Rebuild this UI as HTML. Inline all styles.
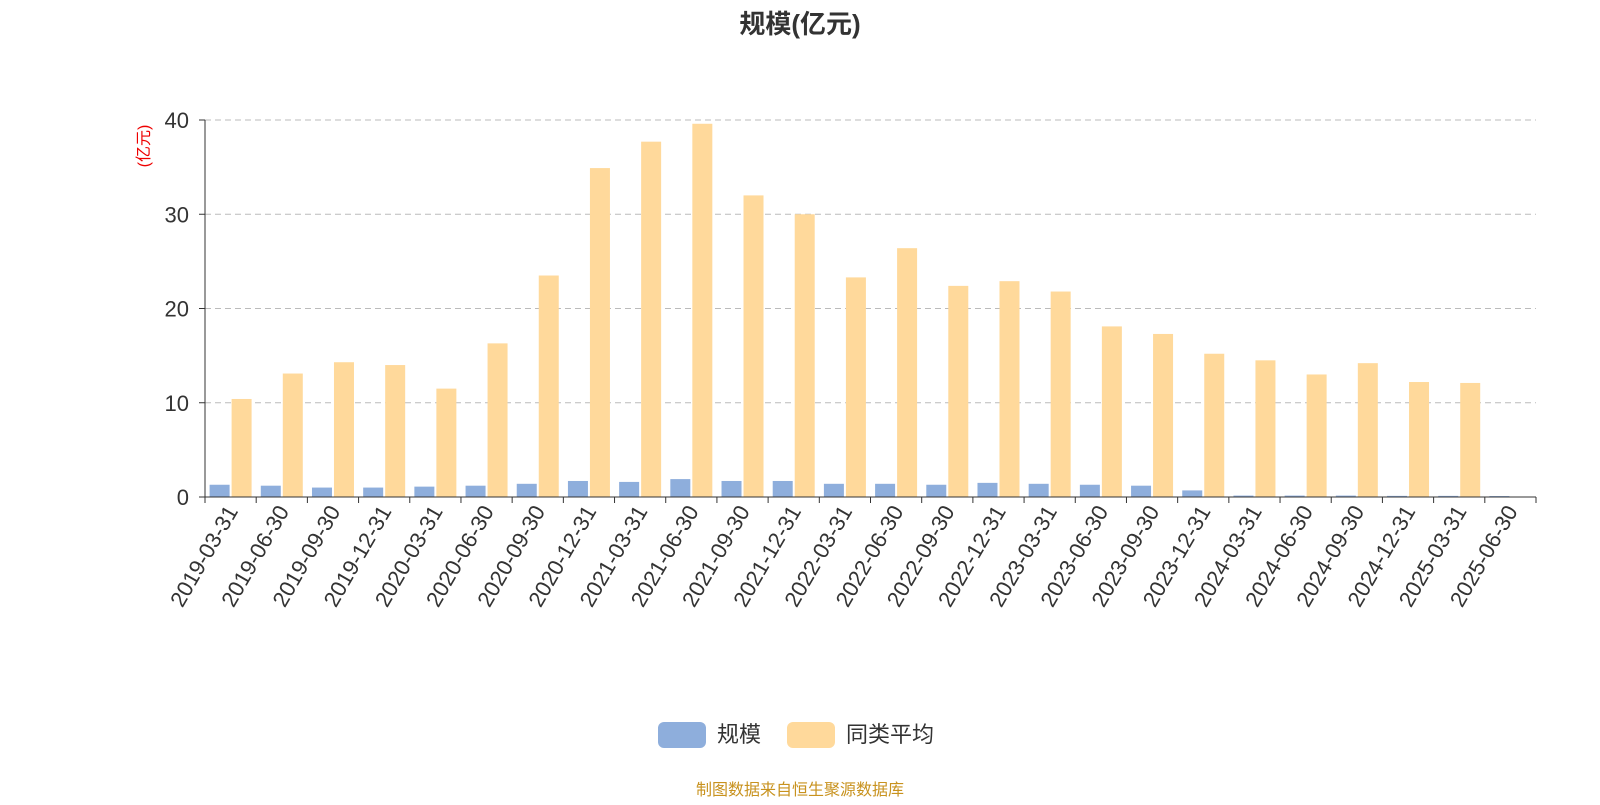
<!DOCTYPE html>
<html><head><meta charset="utf-8"><style>
body{margin:0;background:#fff;width:1600px;height:800px;overflow:hidden;font-family:"Liberation Sans","Noto Sans CJK SC",sans-serif}
</style></head><body>
<svg id="chart" width="1600" height="800" xmlns="http://www.w3.org/2000/svg" font-family="Liberation Sans, Noto Sans CJK SC, sans-serif">
<text x="800" y="33" text-anchor="middle" font-size="26" font-weight="bold" fill="#333">规模(亿元)</text>
<text transform="translate(149,146) rotate(-90)" text-anchor="middle" font-size="16" fill="#e00">(亿元)</text>
<g id="grid"></g><g id="bars"></g><g id="axes"></g>
<g>
<g><rect x="658" y="722" width="48" height="26" rx="6" fill="#8eaedc"/><text x="717" y="742" font-size="22" fill="#333">规模</text></g>
<g><rect x="787" y="722" width="48" height="26" rx="6" fill="#ffd99b"/><text x="846" y="742" font-size="22" fill="#333">同类平均</text></g>
</g>
<text x="800" y="795" text-anchor="middle" font-size="16" fill="#c8921e">制图数据来自恒生聚源数据库</text>
</svg>
<script>
const categories=["2019-03-31","2019-06-30","2019-09-30","2019-12-31","2020-03-31","2020-06-30","2020-09-30","2020-12-31","2021-03-31","2021-06-30","2021-09-30","2021-12-31","2022-03-31","2022-06-30","2022-09-30","2022-12-31","2023-03-31","2023-06-30","2023-09-30","2023-12-31","2024-03-31","2024-06-30","2024-09-30","2024-12-31","2025-03-31","2025-06-30"];
const sizeValues=[1.3,1.2,1.0,1.0,1.1,1.2,1.4,1.7,1.6,1.9,1.7,1.7,1.4,1.4,1.3,1.5,1.4,1.3,1.2,0.7,0.15,0.15,0.15,0.12,0.12,0.1];
const avgValues=[10.4,13.1,14.3,14.0,11.5,16.3,23.5,34.9,37.7,39.6,32.0,30.0,23.3,26.4,22.4,22.9,21.8,18.1,17.3,15.2,14.5,13.0,14.2,12.2,12.1,0];
const yTicks=[0,10,20,30,40];
const NS="http://www.w3.org/2000/svg";
const x0=205,x1=1536,y0=497,y1=120,yMax=40;
const bw=(x1-x0)/categories.length;
const yS=v=>y0-(v/yMax)*(y0-y1);
const xS=i=>x0+i*bw;
function mk(t,a,p){const e=document.createElementNS(NS,t);for(const k in a)e.setAttribute(k,a[k]);p.appendChild(e);return e;}
const grid=document.getElementById('grid'),bars=document.getElementById('bars'),axes=document.getElementById('axes');
yTicks.forEach(v=>{
 if(v>0){const l=mk('line',{x1:x0,x2:x1,y1:yS(v),y2:yS(v),stroke:'#bbb','stroke-dasharray':'6,4'},grid);
 
 }
 const t=mk('text',{x:x0-16,y:yS(v)+8,'text-anchor':'end','font-size':22,fill:'#333'},axes);t.textContent=v;
 
 
 mk('line',{x1:x0-6,x2:x0,y1:yS(v),y2:yS(v),stroke:'#333'},axes);
});
categories.forEach((c,i)=>{
 const cx=xS(i)+bw/2;
 const b=mk('rect',{x:cx-21,y:yS(sizeValues[i]),width:20,height:y0-yS(sizeValues[i]),fill:'#8eaedc'},bars);
 
 
 const o=mk('rect',{x:cx+1,y:yS(avgValues[i]),width:20,height:y0-yS(avgValues[i]),fill:'#ffd99b'},bars);
 
 
 mk('line',{x1:xS(i),x2:xS(i),y1:y0,y2:y0+6,stroke:'#333'},axes);
 const t=mk('text',{transform:`translate(${cx+8},${y0+14}) rotate(-60)`,'text-anchor':'end','font-size':22,fill:'#333'},axes);t.textContent=c;
 
 
});
mk('line',{x1:x1,x2:x1,y1:y0,y2:y0+6,stroke:'#333'},axes);
const ya=mk('line',{x1:x0,x2:x0,y1:y1,y2:y0,stroke:'#333'},axes);


const xa=mk('line',{x1:x0,x2:x1,y1:y0,y2:y0,stroke:'#333'},axes);


</script>
</body></html>
